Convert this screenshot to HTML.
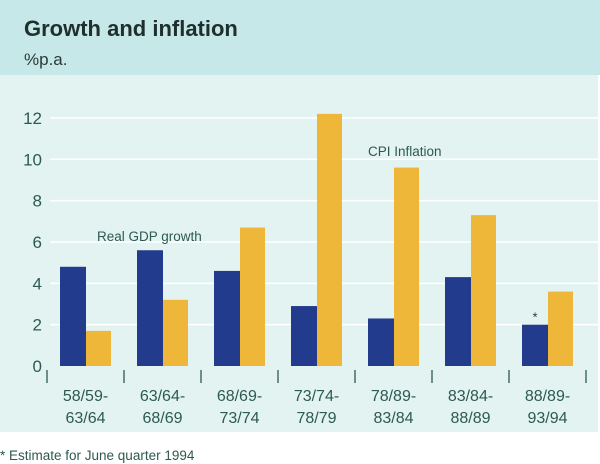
<!DOCTYPE html>
<html><head><meta charset="utf-8">
<style>
body{margin:0;width:600px;height:464px;background:#fff;overflow:hidden;font-family:"Liberation Sans",sans-serif}
svg{display:block}
</style></head>
<body>
<svg id="chart" width="600" height="464">
<rect x="0" y="0" width="600" height="75" fill="#c6e8e8"/>
<rect x="0" y="75" width="598" height="357" fill="#e3f3f2"/>
<text x="24" y="36" font-size="22" font-weight="bold" fill="#1e2f2d">Growth and inflation</text>
<text x="24" y="65" font-size="17" fill="#2a3a38">%p.a.</text>
<g id="grid"></g>
<g id="bars"></g>
<g id="axis"></g>
<text x="97" y="241" font-size="13.5" fill="#2d5a50">Real GDP growth</text>
<text x="368" y="156" font-size="13.5" fill="#2d5a50">CPI Inflation</text>
<text x="0" y="460" font-size="13.5" fill="#2d5a50">* Estimate for June quarter 1994</text>
</svg>
<script>
const categories = [["58/59-","63/64"],["63/64-","68/69"],["68/69-","73/74"],["73/74-","78/79"],["78/89-","83/84"],["83/84-","88/89"],["88/89-","93/94"]];
const gdpGrowth = [4.8, 5.6, 4.6, 2.9, 2.3, 4.3, 2.0];
const cpiInflation = [1.7, 3.2, 6.7, 12.2, 9.6, 7.3, 3.6];
const yTicks = [0, 2, 4, 6, 8, 10, 12];
const estimated = [false, false, false, false, false, false, true];

const NS = "http://www.w3.org/2000/svg";
const y0 = 366, yScale = 20.67;
const x0 = 47, groupW = 77;
function yPos(v){ return y0 - v * yScale; }
function xGroup(i){ return x0 + i * groupW; }
function mk(tag, attrs, parent){ const e=document.createElementNS(NS,tag); for(const k in attrs) e.setAttribute(k,attrs[k]); parent.appendChild(e); return e; }
const grid=document.getElementById('grid'), bars=document.getElementById('bars'), axis=document.getElementById('axis');

yTicks.forEach(t=>{
  if(t>0){
    const l=mk('line',{x1:50,x2:598,y1:yPos(t),y2:yPos(t),stroke:'#ffffff','stroke-width':1.5},grid);
    
    
  }
  const tx=mk('text',{x:42,y:yPos(t)+6,'font-size':17,'text-anchor':'end',fill:'#2d5a50'},axis);
  tx.textContent=t;
  
  
});

for(let i=0;i<=categories.length;i++){
  const l=mk('line',{x1:xGroup(i),x2:xGroup(i),y1:370,y2:383,stroke:'#2d5a50','stroke-width':1.3},axis);
  
  
}

categories.forEach((c,i)=>{
  const gx=xGroup(i);
  const b=mk('rect',{x:gx+13,y:yPos(gdpGrowth[i]),width:26,height:gdpGrowth[i]*yScale,fill:'#233b8c'},bars);
  
  
  const r=mk('rect',{x:gx+39,y:yPos(cpiInflation[i]),width:25,height:cpiInflation[i]*yScale,fill:'#efb73a'},bars);
  
  
  if(estimated[i]){
    const s=mk('text',{x:gx+26,y:yPos(gdpGrowth[i])-3,'font-size':13,'text-anchor':'middle',fill:'#2d3a38'},bars);
    s.textContent='*';
    
    
  }
  c.forEach((line,j)=>{
    const t=mk('text',{x:gx+38.5,y:401+j*22,'font-size':16,'text-anchor':'middle',fill:'#2d5a50'},axis);
    t.textContent=line;
    
    
  });
});
</script>
</body></html>
